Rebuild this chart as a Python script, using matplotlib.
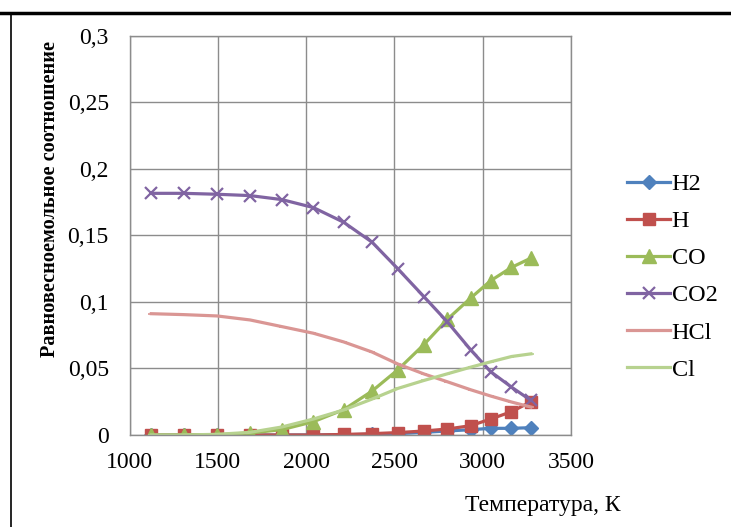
import matplotlib
matplotlib.use("Agg")
import matplotlib.pyplot as plt
from matplotlib.lines import Line2D

# temperature points (K)
temp = [1123, 1307, 1496, 1682, 1862, 2041, 2212, 2373, 2519, 2667, 2800, 2932, 3045, 3163, 3273]

# equilibrium mole fractions
h2 = [0, 0, 0, 0, 0, 0, 0.0002, 0.0005, 0.001, 0.002, 0.003, 0.004, 0.005, 0.005, 0.0055]
h = [0, 0, 0, 0, 0, 0, 0.0004, 0.001, 0.0018, 0.003, 0.0045, 0.007, 0.012, 0.0175, 0.025]
co = [0, 0, 0.0002, 0.0015, 0.004, 0.010, 0.019, 0.033, 0.049, 0.068, 0.087, 0.103, 0.116, 0.126, 0.133]
co2 = [0.1817, 0.1817, 0.181, 0.180, 0.177, 0.171, 0.160, 0.145, 0.125, 0.104, 0.085, 0.064, 0.0476, 0.036, 0.026]
hcl = [0.0912, 0.0905, 0.0895, 0.0865, 0.0815, 0.0765, 0.070, 0.0624, 0.0534, 0.0459, 0.040, 0.034, 0.0293, 0.0248, 0.021]
cl = [0, 0, 0.0005, 0.002, 0.006, 0.012, 0.0188, 0.027, 0.035, 0.041, 0.046, 0.051, 0.055, 0.059, 0.061]

labels = ['H2', 'H', 'CO', 'CO2', 'HCl', 'Cl']
x_ticks = [1000, 1500, 2000, 2500, 3000, 3500]
y_ticks = [0, 0.05, 0.1, 0.15, 0.2, 0.25, 0.3]
y_tick_labels = ['0', '0,05', '0,1', '0,15', '0,2', '0,25', '0,3']

plt.rcParams['font.family'] = ['Liberation Serif', 'DejaVu Serif']

fig = plt.figure(figsize=(7.31, 5.27), dpi=100)
ax = fig.add_axes([0.1773, 0.1746, 0.7811 - 0.1773, 0.9317 - 0.1746])

# plot each species (later series on top, like Excel)
ax.plot(temp, h2, color='#4F81BD', lw=2.3, marker='D', ms=7, label=labels[0])
ax.plot(temp, h, color='#C0504D', lw=2.3, marker='s', ms=9, label=labels[1])
ax.plot(temp, co, color='#9BBB59', lw=2.3, marker='^', ms=10.5, label=labels[2])
ax.plot(temp, co2, color='#8064A2', lw=2.3, marker='x', ms=9, mew=1.6, label=labels[3])
ax.plot(temp, hcl, color='#DA9694', lw=2.3, marker='_', ms=5, mew=1.2, label=labels[4])
ax.plot(temp, cl, color='#B7D28F', lw=2.3, marker='_', ms=5, mew=1.2, label=labels[5])

ax.set_xlim(1000, 3500)
ax.set_ylim(0, 0.3)
ax.set_xticks(x_ticks)
ax.set_yticks(y_ticks)
ax.set_yticklabels(y_tick_labels)
ax.tick_params(length=0, labelsize=17, colors='black')
ax.tick_params(axis='y', pad=15)
ax.tick_params(axis='x', pad=12.5)
ax.grid(True, color='#8C8C8C', lw=1)
ax.set_axisbelow(True)
for sp in ax.spines.values():
    sp.set_color('#8C8C8C')
    sp.set_linewidth(1)

# axis titles placed where the scan has them
fig.text(50 / 731, 1 - 199 / 527, 'Равновесноемольное соотношение', fontsize=14.6,
         fontweight='bold', rotation=90, ha='center', va='center')
fig.text(543 / 731, 1 - 506 / 527, 'Температура, К', fontsize=17, ha='center', va='center')

# legend (no frame)
handles, lbls = ax.get_legend_handles_labels()
fig.legend(handles, lbls, loc='upper left', bbox_to_anchor=(617 / 731, 1 - 163.5 / 527),
           frameon=False, fontsize=17.5, handlelength=1.8, handletextpad=0.05,
           labelspacing=0.62, borderaxespad=0)

# page border lines seen in the scan
fig.add_artist(Line2D([0, 1], [1 - 13 / 527, 1 - 13 / 527], transform=fig.transFigure, color='black', lw=2.5))
fig.add_artist(Line2D([10.5 / 731, 10.5 / 731], [0, 1 - 13 / 527], transform=fig.transFigure, color='black', lw=1.2))

fig.savefig('out.png', dpi=100)
